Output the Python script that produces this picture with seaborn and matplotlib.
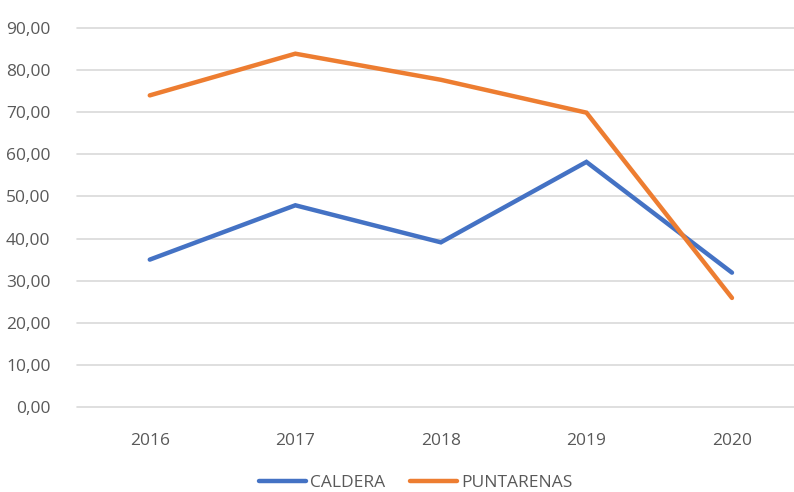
import matplotlib
matplotlib.use("Agg")
import matplotlib.pyplot as plt
import seaborn as sns
import pandas as pd
from matplotlib.ticker import FuncFormatter

years = ["2016", "2017", "2018", "2019", "2020"]
caldera = [35.0, 47.9, 39.1, 58.2, 31.9]
puntarenas = [74.0, 83.9, 77.7, 69.9, 25.9]
series_names = ["CALDERA", "PUNTARENAS"]
y_ticks = [0, 10, 20, 30, 40, 50, 60, 70, 80, 90]

df = pd.DataFrame({
    "year": years * 2,
    "x": list(range(len(years))) * 2,
    "value": caldera + puntarenas,
    "series": [series_names[0]] * len(years) + [series_names[1]] * len(years),
})

sns.set_theme(style="white")
plt.rcParams["font.family"] = ["Open Sans", "DejaVu Sans"]

fig = plt.figure(figsize=(7.94, 4.92), dpi=100)
W, H = 794, 492
ax = fig.add_axes([77 / W, (H - 407) / H, 1 - 77 / W, 379 / H])

palette = {"CALDERA": "#4472C4", "PUNTARENAS": "#ED7D31"}
sns.lineplot(data=df, x="x", y="value", hue="series", palette=palette,
             linewidth=3.2, ax=ax, legend=True, sort=False)
for ln in ax.lines:
    ln.set_solid_capstyle("round")
    ln.set_solid_joinstyle("miter")

ax.set_ylim(0, 90)
ax.set_xlim(-0.5, (794 - 150) / 145.5)
ax.set_yticks(y_ticks)
ax.yaxis.set_major_formatter(FuncFormatter(lambda v, p: f"{v:.2f}".replace(".", ",")))
ax.set_xticks(range(len(years)))
ax.set_xticklabels(years)
ax.grid(axis="y", color="#D9D9D9", linewidth=1.2)
for gl in ax.yaxis.get_gridlines():
    gl.set_clip_on(False)
ax.set_axisbelow(True)
for s in ax.spines.values():
    s.set_visible(False)
ax.tick_params(axis="both", length=0, labelsize=12.5, labelcolor="#595959")
ax.tick_params(axis="y", pad=19)
ax.tick_params(axis="x", pad=19)
ax.set_xlabel("")
ax.set_ylabel("")

handles, labels = ax.get_legend_handles_labels()
ax.legend_.remove()
leg = fig.legend(handles, labels, loc="center", bbox_to_anchor=(416 / W, 1 - 483 / H),
                 ncol=2, frameon=False, fontsize=12.5, handlelength=2.7,
                 handletextpad=0.25, columnspacing=1.45, labelcolor="#595959")
for lh in leg.get_lines():
    lh.set_linewidth(3.2)
    lh.set_solid_capstyle("round")

fig.savefig("out.png", dpi=100)
